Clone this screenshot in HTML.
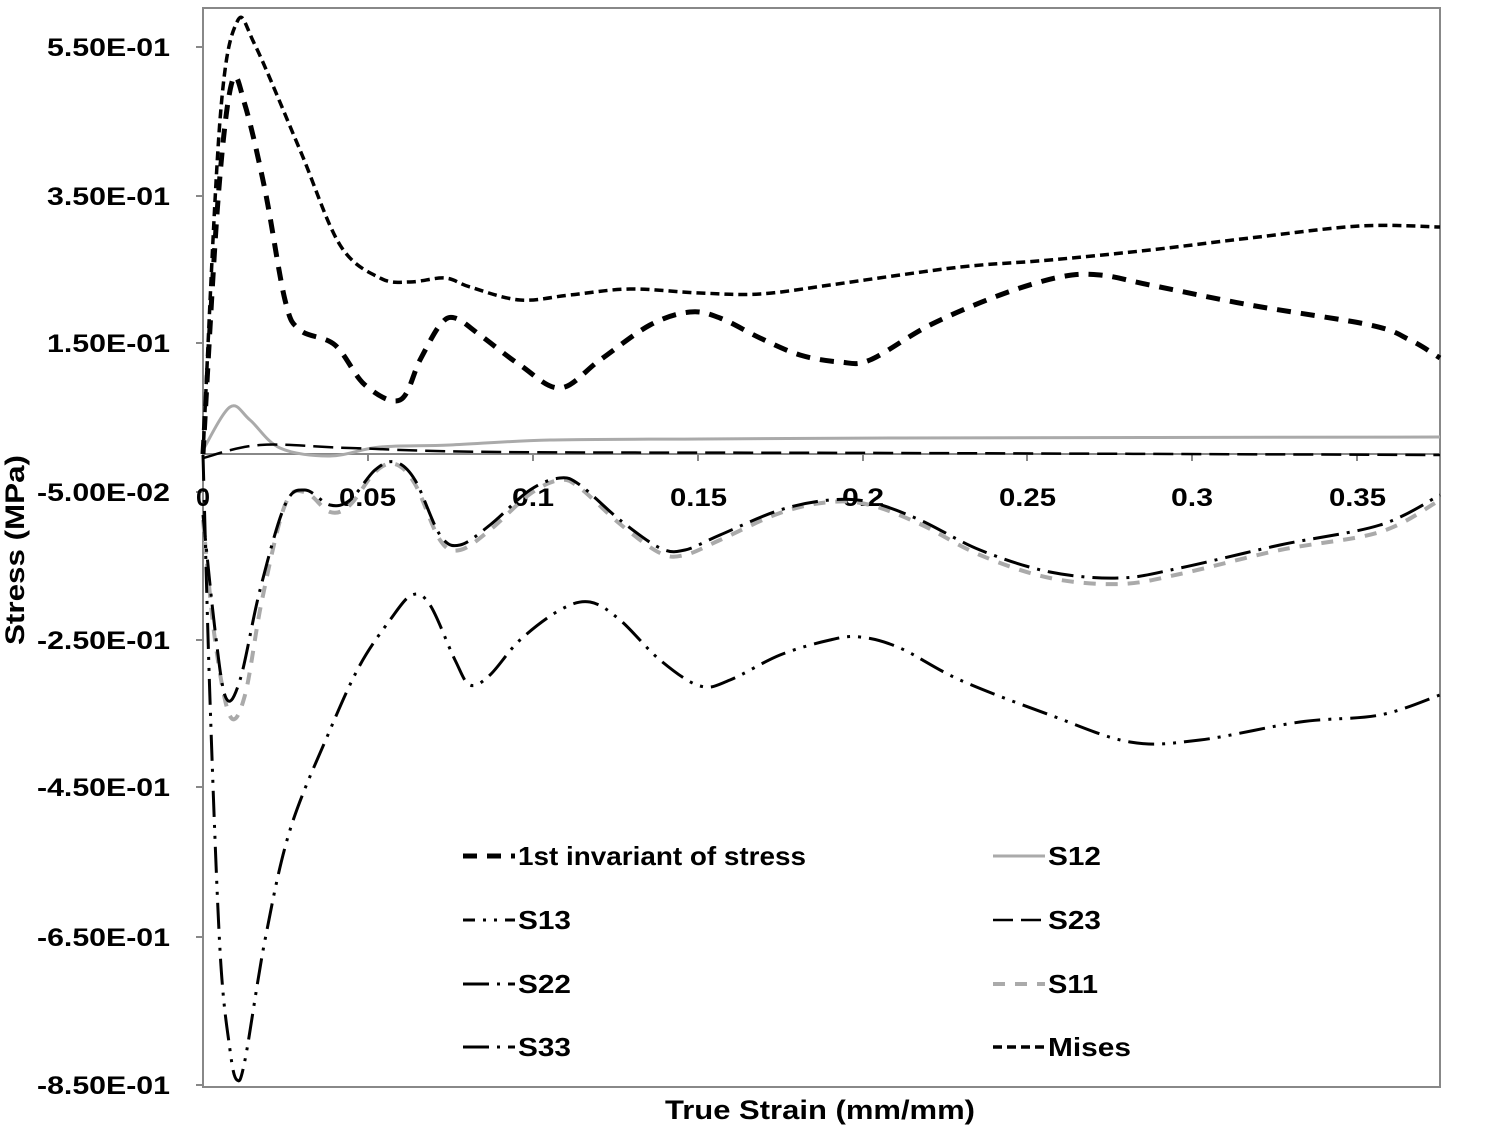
<!DOCTYPE html>
<html><head><meta charset="utf-8"><style>
body{margin:0;background:#fff;}
svg text{font-family:"Liberation Sans",Arial,sans-serif;font-weight:bold;fill:#000;}
</style></head><body>
<svg id="s" width="1500" height="1125" xmlns="http://www.w3.org/2000/svg">
<rect x="203" y="8" width="1237" height="1079" fill="none" stroke="#888" stroke-width="2"/>
<line x1="203" y1="454" x2="1440" y2="454" stroke="#888" stroke-width="2"/>
<g stroke="#888" stroke-width="2">
<line x1="196" y1="47" x2="203" y2="47"/><line x1="196" y1="196" x2="203" y2="196"/>
<line x1="196" y1="343" x2="203" y2="343"/><line x1="196" y1="492" x2="203" y2="492"/>
<line x1="196" y1="640" x2="203" y2="640"/><line x1="196" y1="787" x2="203" y2="787"/>
<line x1="196" y1="937" x2="203" y2="937"/><line x1="196" y1="1085" x2="203" y2="1085"/>
<line x1="368" y1="454" x2="368" y2="461"/><line x1="533" y1="454" x2="533" y2="461"/>
<line x1="698" y1="454" x2="698" y2="461"/><line x1="863" y1="454" x2="863" y2="461"/>
<line x1="1027" y1="454" x2="1027" y2="461"/><line x1="1192" y1="454" x2="1192" y2="461"/>
<line x1="1357" y1="454" x2="1357" y2="461"/>
</g>
<g font-size="25" lengthAdjust="spacingAndGlyphs">
<text x="47" y="56" textLength="123" lengthAdjust="spacingAndGlyphs">5.50E-01</text>
<text x="47" y="205" textLength="123" lengthAdjust="spacingAndGlyphs">3.50E-01</text>
<text x="47" y="352" textLength="123" lengthAdjust="spacingAndGlyphs">1.50E-01</text>
<text x="37" y="501" textLength="133" lengthAdjust="spacingAndGlyphs">-5.00E-02</text>
<text x="37" y="649" textLength="133" lengthAdjust="spacingAndGlyphs">-2.50E-01</text>
<text x="37" y="796" textLength="133" lengthAdjust="spacingAndGlyphs">-4.50E-01</text>
<text x="37" y="946" textLength="133" lengthAdjust="spacingAndGlyphs">-6.50E-01</text>
<text x="37" y="1094" textLength="133" lengthAdjust="spacingAndGlyphs">-8.50E-01</text>
</g>
<g font-size="25">
<text x="196" y="506" textLength="14" lengthAdjust="spacingAndGlyphs">0</text>
<text x="339" y="506" textLength="57" lengthAdjust="spacingAndGlyphs">0.05</text>
<text x="512" y="506" textLength="42" lengthAdjust="spacingAndGlyphs">0.1</text>
<text x="670" y="506" textLength="57" lengthAdjust="spacingAndGlyphs">0.15</text>
<text x="842" y="506" textLength="42" lengthAdjust="spacingAndGlyphs">0.2</text>
<text x="999" y="506" textLength="57" lengthAdjust="spacingAndGlyphs">0.25</text>
<text x="1171" y="506" textLength="42" lengthAdjust="spacingAndGlyphs">0.3</text>
<text x="1329" y="506" textLength="57" lengthAdjust="spacingAndGlyphs">0.35</text>
</g>
<text x="665" y="1119" font-size="27" textLength="310" lengthAdjust="spacingAndGlyphs">True Strain (mm/mm)</text>
<text transform="translate(24,645) rotate(-90)" font-size="27" textLength="190" lengthAdjust="spacingAndGlyphs">Stress (MPa)</text>
<g id="curves" fill="none"></g>
<g font-size="26">
<line x1="463" y1="856" x2="515" y2="856" stroke="#000" stroke-width="5" stroke-dasharray="14,10"/>
<text x="518" y="865" textLength="288" lengthAdjust="spacingAndGlyphs">1st invariant of stress</text>
<line x1="463" y1="920" x2="515" y2="920" stroke="#000" stroke-width="3" stroke-dasharray="12,8,3,8,3,8"/>
<text x="518" y="929" textLength="53" lengthAdjust="spacingAndGlyphs">S13</text>
<line x1="463" y1="984" x2="515" y2="984" stroke="#000" stroke-width="3" stroke-dasharray="26,8,3,8"/>
<text x="518" y="993" textLength="53" lengthAdjust="spacingAndGlyphs">S22</text>
<line x1="463" y1="1047" x2="515" y2="1047" stroke="#000" stroke-width="3" stroke-dasharray="26,8,3,8"/>
<text x="518" y="1056" textLength="53" lengthAdjust="spacingAndGlyphs">S33</text>
<line x1="993" y1="856" x2="1045" y2="856" stroke="#aaa" stroke-width="3"/>
<text x="1048" y="865" textLength="53" lengthAdjust="spacingAndGlyphs">S12</text>
<line x1="993" y1="920" x2="1045" y2="920" stroke="#000" stroke-width="2.5" stroke-dasharray="20,8"/>
<text x="1048" y="929" textLength="53" lengthAdjust="spacingAndGlyphs">S23</text>
<line x1="993" y1="984" x2="1045" y2="984" stroke="#aaa" stroke-width="4" stroke-dasharray="12,10"/>
<text x="1048" y="993" textLength="50" lengthAdjust="spacingAndGlyphs">S11</text>
<line x1="993" y1="1047" x2="1045" y2="1047" stroke="#000" stroke-width="3.5" stroke-dasharray="9,5"/>
<text x="1048" y="1056" textLength="83" lengthAdjust="spacingAndGlyphs">Mises</text>
</g>
</svg>
<script>
function path(p){var d="M"+p[0][0]+","+p[0][1];for(var i=0;i<p.length-1;i++){var p0=p[i>0?i-1:0],p1=p[i],p2=p[i+1],p3=p[i+2<p.length?i+2:i+1];
d+=" C"+(p1[0]+(p2[0]-p0[0])/6).toFixed(1)+","+(p1[1]+(p2[1]-p0[1])/6).toFixed(1)+" "+(p2[0]-(p3[0]-p1[0])/6).toFixed(1)+","+(p2[1]-(p3[1]-p1[1])/6).toFixed(1)+" "+p2[0]+","+p2[1];}return d;}
var S=[
{c:"#aaa",w:3,d:"",p:[[203,450],[230,407],[250,420],[280,448],[330,456],[380,447],[450,445],[550,440],[700,439],[900,438],[1440,437]]},
{c:"#000",w:2.5,d:"20,8",p:[[203,458],[260,445],[350,448],[500,452],[900,453],[1440,455]]},
{c:"#aaa",w:4,d:"12,10",p:[[203,520],[215,640],[230,716],[245,695],[262,600],[285,505],[305,492],[330,512],[350,505],[375,472],[395,464],[415,484],[440,540],[460,550],[490,530],[530,494],[560,480],[580,488],[620,524],[660,553],[685,555],[720,540],[780,513],[830,502],[870,505],[920,524],[980,555],[1050,578],[1120,584],[1180,574],[1280,550],[1380,532],[1440,500]]},
{c:"#000",w:3,d:"26,8,3,8",p:[[203,515],[215,630],[226,698],[240,680],[260,590],[285,505],[305,490],[330,505],[350,500],[375,470],[395,462],[415,480],[440,535],[460,545],[490,525],[530,490],[560,478],[580,485],[620,520],[660,548],[685,550],[720,535],[780,510],[830,500],[870,502],[920,520],[980,550],[1050,572],[1120,578],[1180,568],[1280,545],[1380,525],[1440,495]]},
{c:"#000",w:3,d:"26,8,3,8,3,8",p:[[203,455],[210,700],[220,950],[230,1050],[237,1080],[245,1060],[265,940],[290,830],[330,730],[360,665],[390,620],[412,595],[430,605],[455,660],[470,685],[490,675],[520,640],[560,610],[590,602],[620,620],[660,660],[700,686],[730,680],[780,655],[830,640],[860,637],[900,648],[960,680],[1050,715],[1130,742],[1200,740],[1300,722],[1380,715],[1440,695]]},
{c:"#000",w:5,d:"14,10",p:[[203,454],[218,200],[232,82],[245,105],[265,190],[285,300],[300,330],[335,345],[365,385],[400,400],[420,360],[440,325],[455,318],[480,335],[520,365],[560,388],[600,360],[650,325],[690,312],[720,318],[760,338],[800,355],[840,362],[870,360],[930,325],[1000,295],[1060,277],[1100,275],[1150,285],[1250,305],[1370,325],[1410,340],[1440,358]]},
{c:"#000",w:3.5,d:"9,5",p:[[203,454],[220,120],[237,22],[255,45],[300,150],[340,245],[380,278],[410,282],[445,278],[470,287],[520,300],[570,295],[630,289],[700,293],[760,294],[830,285],[900,275],[970,266],[1050,260],[1150,250],[1250,238],[1360,226],[1440,227]]}
];
var g=document.getElementById("curves"),h="";
S.forEach(function(s){h+='<path d="'+path(s.p)+'" stroke="'+s.c+'" stroke-width="'+s.w+'"'+(s.d?' stroke-dasharray="'+s.d+'"':'')+'/>';});
g.innerHTML=h;
</script>
</body></html>
